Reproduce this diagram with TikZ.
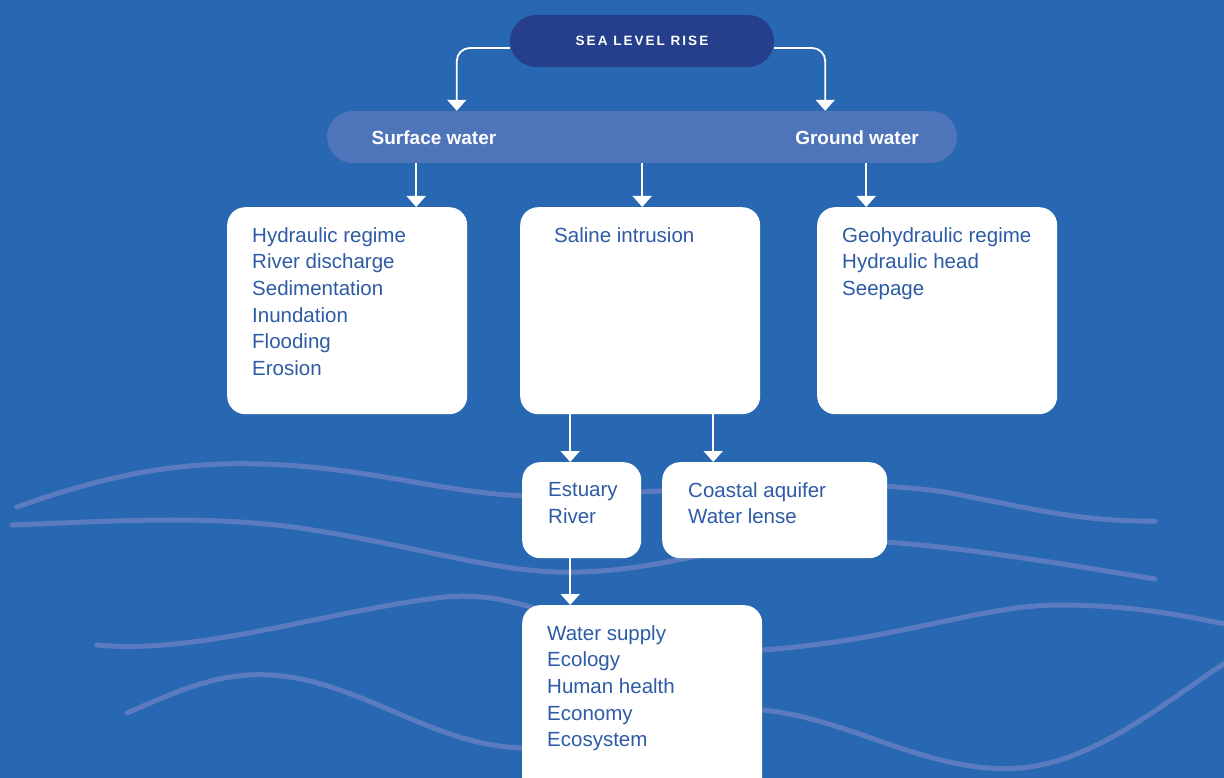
\documentclass[tikz,border=0pt]{standalone}
\usepackage{fontspec}
\setmainfont{Liberation Sans}
\newfontfamily\spaced[LetterSpace=15]{Liberation Sans}
\usetikzlibrary{arrows.meta}
\usetikzlibrary{positioning}
\definecolor{sea}{HTML}{2867B1}
\definecolor{navy}{HTML}{253F8D}
\definecolor{bandblue}{HTML}{4E74BA}
\definecolor{wave}{HTML}{5A7BC0}
\definecolor{boxtext}{HTML}{2D5BA5}
\tikzset{
	box/.style={fill=white, rounded corners=18pt, anchor=north west, inner sep=0pt, minimum width=240pt},
	item/.style={anchor=north west, inner sep=0pt, align=left, text=boxtext, font=\fontsize{20.5}{26.7}\selectfont},
	head/.style={text=white, font=\bfseries\fontsize{19}{22}\selectfont},
	arr/.style={draw=white, line width=1.8pt, -{Triangle[width=19pt,length=11pt]}},
	wavy/.style={draw=wave, line width=5pt, line cap=round}
}

\begin{document}
\begin{tikzpicture}[x=1pt, y=-1pt]
		
		\useasboundingbox (0,0) rectangle (1224,778);
		\fill[sea] (0,0) rectangle (1224,778);
		
		\draw[wavy] (17,507) .. controls (120,470) and (190,462) .. (260,464) .. controls (380,467) and (460,500) .. (560,496) .. controls (700,490) and (850,476) .. (950,493) .. controls (1030,508) and (1080,522) .. (1155,521);
		\draw[wavy] (12,525) .. controls (100,522) and (200,514) .. (300,528) .. controls (420,546) and (500,575) .. (580,572) .. controls (650,570) and (700,553) .. (760,545) .. controls (850,532) and (950,545) .. (1155,579);
		\draw[wavy] (97,645) .. controls (200,655) and (330,610) .. (445,597) .. controls (480,594) and (510,600) .. (540,610) .. controls (620,635) and (700,652) .. (762,650) .. controls (900,640) and (980,605) .. (1060,605) .. controls (1130,605) and (1180,615) .. (1230,625);
		\draw[wavy] (127,713) .. controls (180,690) and (220,672) .. (270,675) .. controls (360,680) and (430,745) .. (522,748) .. controls (650,752) and (700,705) .. (762,710) .. controls (850,718) and (930,775) .. (1020,768) .. controls (1100,762) and (1180,690) .. (1230,660);
		
		\node[fill=navy, rounded corners=26pt, minimum width=264pt, minimum height=52pt, text=white, font=\spaced\bfseries\fontsize{13.5}{16}\selectfont] (slr) at (642,41) {SEA LEVEL RISE};
		\node[fill=bandblue, rounded corners=26pt, minimum width=630pt, minimum height=52pt] (water) at (642,137) {};
		\node[head] (surface) at (434,138) {Surface water};
		\node[head] (ground) at (857,138) {Ground water};
		
		\node[box, minimum height=207pt] (hydro) at (227,207) {};
		\node[box, minimum height=207pt] (saline) at (520,207) {};
		\node[box, minimum height=207pt] (geo) at (817,207) {};
		\node[box, minimum width=119pt, minimum height=96pt] (estuary) at (522,462) {};
		\node[box, minimum width=225pt, minimum height=96pt] (coastal) at (662,462) {};
		\node[box, minimum height=220pt] (impact) at (522,605) {};
		
		\node[item] (hydrotxt) at ([shift={(25,20)}]hydro.north west) {Hydraulic regime\\River discharge\\Sedimentation\\Inundation\\Flooding\\Erosion};
		\node[item] (salinetxt) at ([shift={(34,20)}]saline.north west) {Saline intrusion};
		\node[item] (geotxt) at ([shift={(25,20)}]geo.north west) {Geohydraulic regime\\Hydraulic head\\Seepage};
		\node[item] (estuarytxt) at ([shift={(26,20)}]estuary.north west) {Estuary\\River};
		\node[item] (coastaltxt) at ([shift={(26,20)}]coastal.north west) {Coastal aquifer\\Water lense};
		\node[item] (impacttxt) at ([shift={(25,20)}]impact.north west) {Water supply\\Ecology\\Human health\\Economy\\Ecosystem};
		
		\draw[arr, rounded corners=13pt] ([yshift=-7pt]slr.west) -| ([xshift=130pt]water.north west);
		\draw[arr, rounded corners=13pt] ([yshift=-7pt]slr.east) -| ([xshift=-132pt]water.north east);
		
		\draw[arr] ([xshift=69pt]hydro.north |- water.south) -- ([xshift=69pt]hydro.north);
		\draw[arr] ([xshift=2pt]saline.north |- water.south) -- ([xshift=2pt]saline.north);
		\draw[arr] ([xshift=-71pt]geo.north |- water.south) -- ([xshift=-71pt]geo.north);
		
		\draw[arr] ([xshift=-11.5pt]estuary.north |- saline.south) -- ([xshift=-11.5pt]estuary.north);
		\draw[arr] ([xshift=-61.5pt]coastal.north |- saline.south) -- ([xshift=-61.5pt]coastal.north);
		\draw[arr] ([xshift=-11.5pt]estuary.south) -- ([xshift=-11.5pt]estuary.south |- impact.north);
		
		\end{tikzpicture}
\end{document}
